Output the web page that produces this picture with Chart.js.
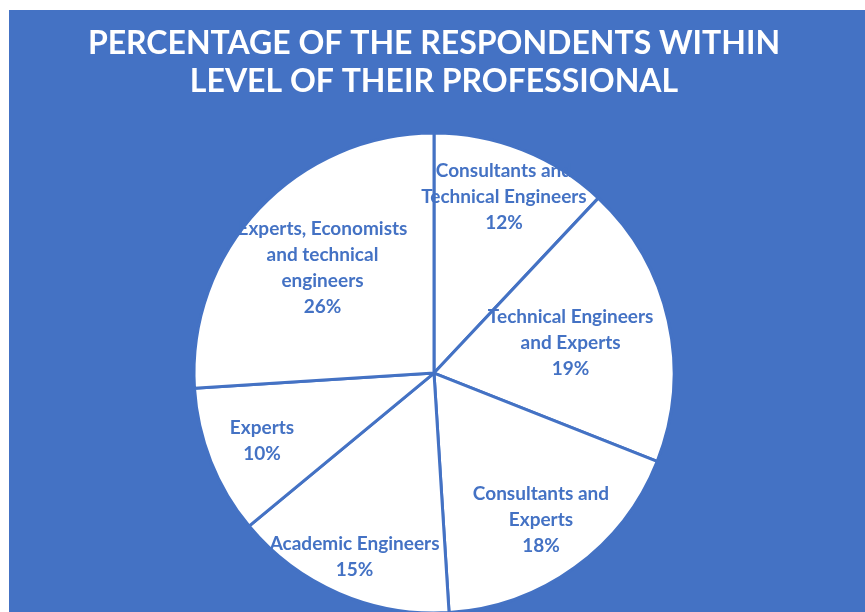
<!DOCTYPE html>
<html>
<head>
<meta charset="utf-8">
<script src="https://cdn.jsdelivr.net/npm/chart.js@4.4.0/dist/chart.umd.min.js"></script>
<style>
  html, body { margin: 0; padding: 0; background: #fff; }
  #wrap { position: absolute; left: 9px; top: 10px; width: 856px; height: 602px; background: #4472C4; }
</style>
</head>
<body>
<div id="wrap"><canvas id="myChart" width="856" height="602"></canvas></div>
<script>
const categories = [
  'Consultants and\nTechnical Engineers',
  'Technical Engineers\nand Experts',
  'Consultants and\nExperts',
  'Academic Engineers',
  'Experts',
  'Experts, Economists\nand technical\nengineers'
];
const values = [12, 19, 18, 15, 10, 26];
const titleLines = ['PERCENTAGE OF THE RESPONDENTS WITHIN', 'LEVEL OF THEIR PROFESSIONAL'];

// how far out each label sits (px from centre), picked by eye like Excel's best fit
const labelDist = [190, 140, 182, 200, 185, 153];

const blue = '#4472C4';

// draw the data labels inside the slices
const sliceLabels = {
  id: 'sliceLabels',
  afterDatasetsDraw(chart) {
    const c = chart.ctx;
    const meta = chart.getDatasetMeta(0);
    const total = values.reduce((a, b) => a + b, 0);
    c.save();
    c.fillStyle = blue;
    c.font = 'bold 19px Lato, "Open Sans", sans-serif';
    c.textAlign = 'center';
    c.textBaseline = 'middle';
    meta.data.forEach(function(arc, i) {
      const mid = (arc.startAngle + arc.endAngle) / 2;
      const x = arc.x + Math.cos(mid) * labelDist[i];
      const y = arc.y + Math.sin(mid) * labelDist[i];
      const lines = categories[i].split('\n');
      lines.push(Math.round(values[i] / total * 100) + '%');
      const lh = 26;
      const top = y - (lines.length - 1) * lh / 2;
      lines.forEach(function(t, k) {
        c.fillText(t, x, top + k * lh);
      });
    });
    c.restore();
  }
};

const ctx = document.getElementById('myChart');
new Chart(ctx, {
  type: 'pie',
  data: {
    labels: categories,
    datasets: [{
      data: values,
      backgroundColor: '#ffffff',
      borderColor: blue,
      borderWidth: 3,
      radius: 240,
      clip: false
    }]
  },
  options: {
    responsive: false,
    animation: false,
    layout: {
      padding: { left: 0, right: 6, top: 0, bottom: 0 }
    },
    plugins: {
      legend: { display: false },
      tooltip: { enabled: false },
      title: {
        display: true,
        text: titleLines,
        color: '#ffffff',
        font: { family: 'Lato, "Open Sans", sans-serif', size: 32, weight: 'bold', lineHeight: 1.19 },
        padding: { top: 15, bottom: 33 }
      }
    }
  },
  plugins: [sliceLabels]
});
</script>
</body>
</html>
